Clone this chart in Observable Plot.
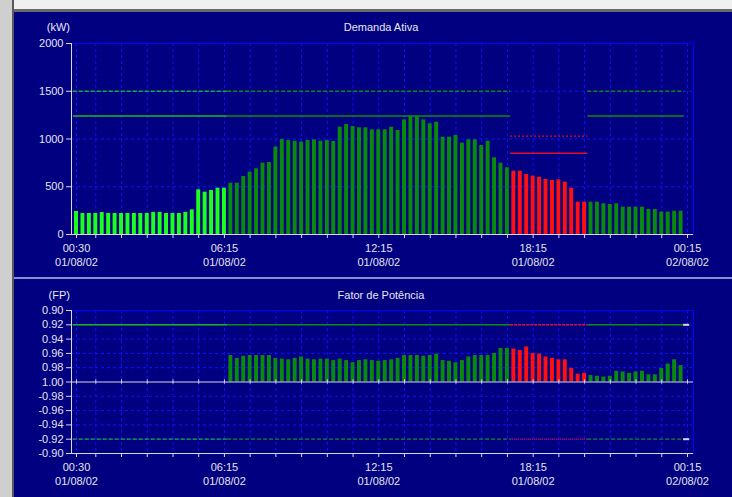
<!DOCTYPE html>
<html><head><meta charset="utf-8">
<script src="https://cdn.jsdelivr.net/npm/d3@7"></script>
<script src="https://cdn.jsdelivr.net/npm/@observablehq/plot@0.6"></script>
<style>
html,body{margin:0;padding:0;background:#fff;}
#win{position:relative;width:732px;height:497px;overflow:hidden;background:#000080;font-family:"Liberation Sans",Arial,sans-serif;}
#topbar{position:absolute;left:0;top:0;width:732px;height:9px;background:#f0f0f0;border-bottom:3px solid #6a6a6a;}
#leftbar{position:absolute;left:0;top:0;width:12px;height:497px;background:#cfcfcf;border-right:2px solid #5a5a5a;}
#sep{position:absolute;left:14px;top:277px;width:718px;height:2px;background:#8c8cd0;}
.lbl{position:absolute;color:#e8e8f0;font-size:11px;line-height:14px;white-space:nowrap;}
.panel{position:absolute;left:0;}
</style></head>
<body>
<div id="win">
  <div id="topbar"></div>
  <div id="leftbar"></div>
  <div id="p1" class="panel" style="top:0px"></div>
  <div id="p2" class="panel" style="top:278px"></div>
  <div id="sep"></div>
  <div class="lbl" style="left:30px;width:40px;text-align:right;top:20px">(kW)</div>
  <div class="lbl" style="left:281px;width:200px;text-align:center;top:20px">Demanda Ativa</div>
  <div class="lbl" style="left:30px;width:40px;text-align:right;top:288px">(FP)</div>
  <div class="lbl" style="left:281px;width:200px;text-align:center;top:288px">Fator de Potência</div>
</div>
<script>
// ---------- DATA ----------
// 15-minute readings from 00:30 01/08/02 to 00:00 02/08/02
const startTime = "2002-08-01T00:30:00Z";
const intervalMin = 15;

// Demanda ativa (kW)
const demandaKW = [
  241,220,220,220,230,220,220,220,220,220,220,220,232,232,220,220,220,232,258,468,443,461,485,485,
  537,537,607,653,688,747,754,915,995,984,977,967,984,991,977,984,974,1124,1152,1131,1117,1117,1096,1096,
  1096,1124,1089,1200,1239,1239,1200,1159,1176,1019,1019,1037,956,991,991,932,977,803,747,698,663,663,628,611,
  600,576,565,572,548,485,339,339,339,339,321,314,321,286,286,286,286,262,262,234,234,244,244
];

// Fator de potência (null = sem barra)
const fatorPotencia = [
  null,null,null,null,null,null,null,null,null,null,null,null,null,null,null,null,null,null,null,null,null,null,null,null,
  0.963,0.967,0.964,0.963,0.963,0.963,0.963,0.967,0.968,0.969,0.967,0.965,0.968,0.969,0.968,0.968,0.970,0.968,0.970,0.973,0.970,0.969,0.970,0.971,0.970,0.969,0.967,0.963,0.963,0.963,0.964,0.963,0.961,0.970,0.971,0.973,
  0.970,0.965,0.963,0.963,0.963,0.960,0.953,0.953,
  0.954,0.956,0.951,0.960,0.961,0.965,0.967,0.969,0.969,0.981,0.989,0.988,
  0.991,0.992,0.993,0.992,0.985,0.986,0.988,0.986,0.985,0.990,0.990,0.981,0.975,0.969,0.977
];

// Tariff periods (first index, last index, name)
const periodNames  = ["base", "fora", "ponta", "fora"];
const periodFirst  = [0, 24, 68, 80];
const periodLast   = [23, 67, 79, 94];

// Limits per period
const demandaContratada = [1240, 1240, 850, 1240];
const demandaTolerancia = [1500, 1500, 1030, 1500];
const fpLimiteInd = [0.92, 0.92, 0.92, 0.92];
const fpLimiteCap = [-0.92, -0.92, -0.92, -0.92];

// Axis ticks
const kwTicks = [0, 500, 1000, 1500, 2000];
const kwGrid = [500, 1000, 1500];
const fpTicks = [0.90, 0.92, 0.94, 0.96, 0.98, 1.00, -0.98, -0.96, -0.94, -0.92, -0.90];
const xTickTimes = ["00:30","01:15","02:15","03:15","04:15","05:15","06:15","07:15","08:15","09:15","10:15","11:15",
  "12:15","13:15","14:15","15:15","16:15","17:15","18:15","19:15","20:15","21:15","22:15","23:15","00:15+"];
const xLabelTime = ["00:30", "06:15", "12:15", "18:15", "00:15"];
const xLabelDate = ["01/08/02", "01/08/02", "01/08/02", "01/08/02", "02/08/02"];

// ---------- HELPERS ----------
const MIN = 60000;
const T0 = new Date(startTime);
const times = demandaKW.map((_, i) => new Date(+T0 + i * intervalMin * MIN));
function hm(s, dateStr) {
  const [h, m] = s.replace("+","").split(":").map(Number);
  let day = 1;
  if (s.endsWith("+")) day = 2;
  if (dateStr) day = +dateStr.split("/")[0];
  return new Date(Date.UTC(2002, 7, day, h, m));
}
const tickDates = xTickTimes.map(s => hm(s));
const labels = xLabelTime.map((s, i) => ({t: hm(s, xLabelDate[i]), hora: s, data: xLabelDate[i]}));
const periodOf = i => periodNames[periodFirst.findIndex((f, k) => i >= f && i <= periodLast[k])];

const rows = times.map((t, i) => ({t, kw: demandaKW[i], fp: fatorPotencia[i], period: periodOf(i)}));
const segs = periodNames.map((p, k) => ({
  period: p,
  x1: new Date(+times[periodFirst[k]] - 7.5 * MIN),
  x2: new Date(+times[periodLast[k]] + 7.5 * MIN),
  contratada: demandaContratada[k], tolerancia: demandaTolerancia[k],
  ind: fpLimiteInd[k], cap: fpLimiteCap[k]
}));

// FP mapped to a symmetric position around 1.00
const toU = fp => fp > 0 ? 1 - fp : -(1 + fp);
const fpLabel = u => Math.abs(u) < 1e-9 ? "1.00" : (u > 0 ? (1 - u).toFixed(2) : (-(1 + u)).toFixed(2));

const xDomain = [new Date(Date.UTC(2002,7,1,0,18,20)), new Date(Date.UTC(2002,7,2,0,29))];

// ---------- STYLE ----------
const FONT = '"Liberation Sans", Arial, sans-serif';
const BAR = {base: "#1cff1c", fora: "#0a8a0a", ponta: "#ff1010"};
const LINE = {base: "#1cb41c", fora: "#0c8a0c", ponta: "#e0102a"};
const GRID = "#1010ff";
const AX = "#d8d8e8";
const TXT = "#e4e4ee";
const halfBar = 4.6 * MIN;
const commonStyle = {background: "transparent", color: TXT, fontFamily: FONT, fontSize: "11px", overflow: "visible"};

const offPeak = segs.filter(d => d.period !== "ponta");
const peak = segs.filter(d => d.period === "ponta");

// ---------- TOP: Demanda Ativa ----------
const p1 = Plot.plot({
  width: 732, height: 278,
  marginLeft: 71, marginRight: 39, marginTop: 43, marginBottom: 44,
  style: commonStyle,
  x: {type: "utc", domain: xDomain, axis: null},
  y: {domain: [0, 2000], axis: null},
  color: {type: "identity"},
  marks: [
    Plot.ruleX(tickDates, {x: d => d, stroke: GRID, strokeDasharray: "3,3"}),
    Plot.ruleY(kwGrid, {y: d => d, stroke: GRID, strokeDasharray: "3,3"}),
    Plot.frame({stroke: "#0000ff"}),
    Plot.rectY(rows, {x1: d => new Date(+d.t - halfBar), x2: d => new Date(+d.t + halfBar), y: "kw", fill: d => BAR[d.period]}),
    Plot.ruleY(offPeak, {y: "tolerancia", x1: "x1", x2: "x2", stroke: d => LINE[d.period], strokeWidth: 1.3, strokeDasharray: "4,2"}),
    Plot.ruleY(offPeak, {y: "contratada", x1: "x1", x2: "x2", stroke: d => LINE[d.period], strokeWidth: 1.5}),
    Plot.ruleY(peak, {y: "tolerancia", x1: "x1", x2: "x2", stroke: d => LINE[d.period], strokeWidth: 1.3, strokeDasharray: "2,2"}),
    Plot.ruleY(peak, {y: "contratada", x1: "x1", x2: "x2", stroke: d => LINE[d.period], strokeWidth: 1.5}),
    Plot.ruleY([0], {stroke: AX}),
    Plot.ruleX([xDomain[0]], {stroke: AX}),
    Plot.axisX({ticks: tickDates, tickSize: 4, tickFormat: () => "", stroke: AX, label: null}),
    Plot.axisY({ticks: kwTicks, tickSize: 5, tickPadding: 3, stroke: AX, fill: TXT, label: null, tickFormat: d => String(d)}),
    Plot.text(labels, {x: "t", text: "hora", frameAnchor: "bottom", dy: 17, fill: TXT}),
    Plot.text(labels, {x: "t", text: "data", frameAnchor: "bottom", dy: 31, fill: TXT})
  ]
});
document.getElementById("p1").append(p1);

// ---------- BOTTOM: Fator de Potência ----------
const fpRows = rows.filter(d => d.fp != null);
const p2 = Plot.plot({
  width: 732, height: 219,
  marginLeft: 71, marginRight: 39, marginTop: 32, marginBottom: 44,
  style: commonStyle,
  x: {type: "utc", domain: xDomain, axis: null},
  y: {domain: [-0.1, 0.1], axis: null},
  color: {type: "identity"},
  marks: [
    Plot.ruleX(tickDates, {x: d => d, stroke: GRID, strokeDasharray: "3,3"}),
    Plot.ruleY(fpTicks.filter(f => Math.abs(f) !== 0.9 && f !== 1).map(toU), {y: d => d, stroke: GRID, strokeDasharray: "3,3"}),
    Plot.frame({stroke: "#0000ff"}),
    Plot.rectY(fpRows, {x1: d => new Date(+d.t - halfBar), x2: d => new Date(+d.t + halfBar), y1: 0, y2: d => toU(d.fp), fill: d => BAR[d.period]}),
    Plot.ruleY(offPeak, {y: d => toU(d.ind), x1: "x1", x2: "x2", stroke: d => LINE[d.period], strokeWidth: 1.5}),
    Plot.ruleY(peak, {y: d => toU(d.ind), x1: "x1", x2: "x2", stroke: d => LINE[d.period], strokeWidth: 1.5, strokeDasharray: "3,1"}),
    Plot.ruleY(offPeak, {y: d => toU(d.cap), x1: "x1", x2: "x2", stroke: d => LINE[d.period], strokeWidth: 1.3, strokeDasharray: "4,2"}),
    Plot.ruleY(peak, {y: d => toU(d.cap), x1: "x1", x2: "x2", stroke: d => LINE[d.period], strokeWidth: 1.3, strokeDasharray: "1,1"}),
    Plot.ruleY([toU(fpLimiteInd[3]), toU(fpLimiteCap[3])], {y: d => d, x1: tickDates[24].getTime() - 9 * MIN, x2: tickDates[24].getTime() + 5 * MIN, stroke: AX, strokeWidth: 2}),
    Plot.ruleY([0], {stroke: AX}),
    Plot.ruleX(tickDates, {x: d => d, y1: -0.003, y2: 0.003, stroke: AX}),
    Plot.ruleY([-0.1], {stroke: AX}),
    Plot.ruleX([xDomain[0]], {stroke: AX}),
    Plot.axisX({ticks: tickDates, tickSize: 4, tickFormat: () => "", stroke: AX, label: null}),
    Plot.axisY({ticks: fpTicks.map(toU), tickSize: 5, tickPadding: 3, stroke: AX, fill: TXT, label: null, tickFormat: fpLabel}),
    Plot.text(labels, {x: "t", text: "hora", frameAnchor: "bottom", dy: 17, fill: TXT}),
    Plot.text(labels, {x: "t", text: "data", frameAnchor: "bottom", dy: 31, fill: TXT})
  ]
});
document.getElementById("p2").append(p2);
</script>
</body></html>
